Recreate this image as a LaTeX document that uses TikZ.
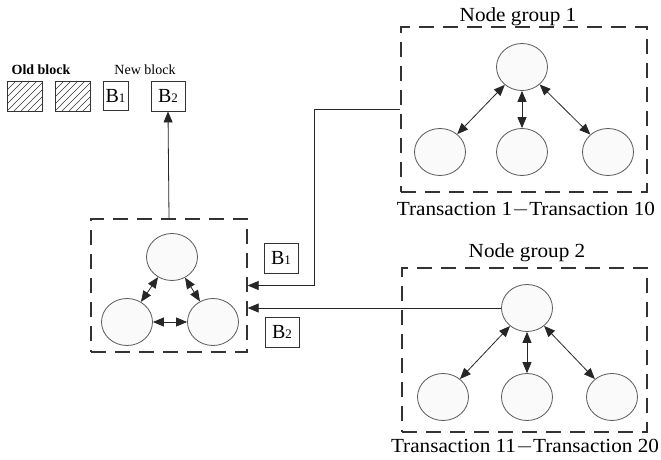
\documentclass[tikz,border=0pt]{standalone}
\usepackage{fontspec}
\setmainfont{Liberation Serif}
\usetikzlibrary{arrows.meta,shapes.geometric}
\begin{document}
\begin{tikzpicture}[x=1pt,y=-1pt,
  grp/.style={draw=black!80, line width=1.3pt, dash pattern=on 15pt off 9pt,
    rectangle, inner sep=0pt},
  peer/.style={ellipse, draw=black!65, line width=0.8pt, minimum width=51pt,
    minimum height=47pt, inner sep=0pt, fill=black!2},
  blk/.style={draw=black!80, line width=0.9pt, rectangle, inner sep=0pt,
    font=\fontsize{20}{20}\selectfont},
  tip/.tip={Triangle[length=11pt,width=9pt]},
  link/.style={tip-tip, line width=0.8pt, black!85},
  feed/.style={-tip, line width=0.8pt, black!85},
  title/.style={font=\fontsize{20}{22}\selectfont, inner sep=0pt, xscale=1.06},
  small/.style={font=\fontsize{14}{16}\selectfont, inner sep=0pt}]
\useasboundingbox (0,0) rectangle (661,460);

% ---- legend: old and new blocks ----
\node[small, font=\fontsize{14}{16}\selectfont\bfseries] (oldlbl) at (41,70) {Old block};
\node[small] (newlbl) at (145,70) {New block};
\foreach \x/\n in {7/ob1, 55/ob2} {
  \node[blk, minimum width=35pt, minimum height=30pt, anchor=north west] (\n) at (\x,81) {};
  \begin{scope}
    \clip (\x,81) rectangle ++(35,30);
    \foreach \k in {-35,-28,...,42}
      \draw[black!80, line width=0.7pt] (\x+\k,111) -- ++(35,-35);
  \end{scope}
}
\node[blk, minimum width=25pt, minimum height=29pt] (nb1) at (115.5,96)
  {B{\fontsize{13}{13}\selectfont 1}};
\node[blk, minimum width=34pt, minimum height=30pt] (nb2) at (168,96)
  {B{\fontsize{13}{13}\selectfont 2}};

% ---- leader group ----
\node[grp, minimum width=156pt, minimum height=133pt] (lb) at (169,285.5) {};
\node[peer] (lt) at (172,257) {};
\node[peer] (ll) at (127,322) {};
\node[peer] (lr) at (213,322) {};
\draw[link] (lt) -- (ll);
\draw[link] (lt) -- (lr);
\draw[link] (ll) -- (lr);
\draw[feed] (lb.north) -- (nb2.south);

% ---- node group 1 ----
\node[grp, minimum width=246pt, minimum height=165pt] (g1) at (524,109.5) {};
\node[title] (g1t) at (518,17) {Node group 1};
\node[title] (g1tx) at (526,210) {Transaction 1$-$Transaction 10};
\node[peer] (a0) at (522,67) {};
\node[peer] (a1) at (440,152) {};
\node[peer] (a2) at (522,152) {};
\node[peer] (a3) at (608,152) {};
\draw[link] (a0) -- (a1);
\draw[link] (a0) -- (a2);
\draw[link] (a0) -- (a3);

% ---- node group 2 ----
\node[grp, minimum width=245pt, minimum height=164pt] (g2) at (524.5,350) {};
\node[title] (g2t) at (527,253) {Node group 2};
\node[title] (g2tx) at (525,447) {Transaction 11$-$Transaction 20};
\node[peer] (c0) at (527,308) {};
\node[peer] (c1) at (443,397) {};
\node[peer] (c2) at (527,397) {};
\node[peer] (c3) at (612,397) {};
\draw[link] (c0) -- (c1);
\draw[link] (c0) -- (c2);
\draw[link] (c0) -- (c3);

% ---- submissions to the leader ----
\draw[feed] (g1.west) -- ++(-86,0) |- (lb.east);
\draw[feed] (c0.west) -- (c0.west -| lb.east);
\node[blk, minimum width=34pt, minimum height=30pt] (sb1) at (281,258)
  {B{\fontsize{13}{13}\selectfont 1}};
\node[blk, minimum width=34pt, minimum height=30pt] (sb2) at (282,332)
  {B{\fontsize{13}{13}\selectfont 2}};
\end{tikzpicture}
\end{document}
